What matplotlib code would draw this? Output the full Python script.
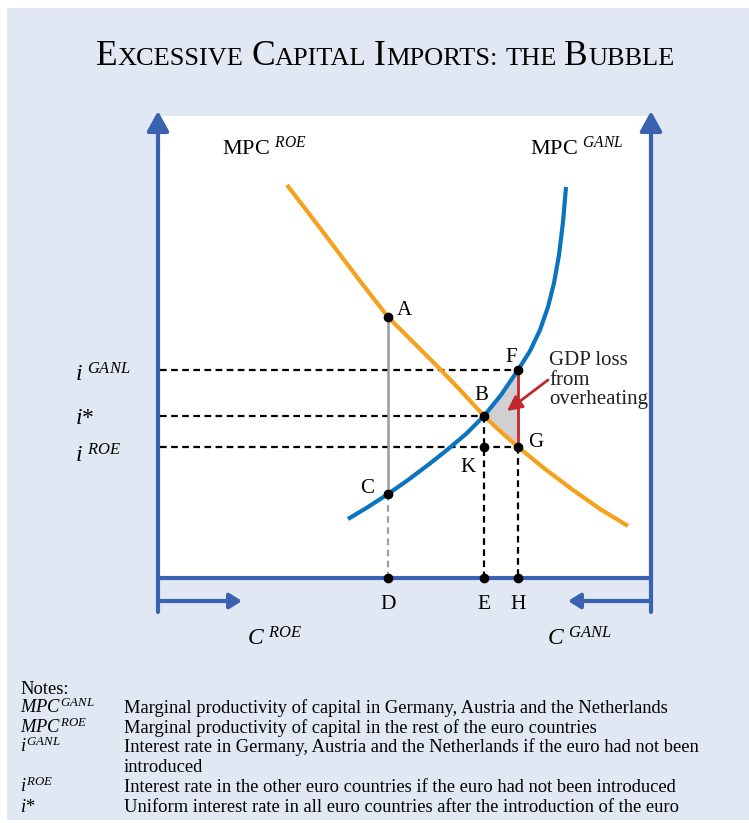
import numpy as np
import matplotlib
matplotlib.use("Agg")
import matplotlib.pyplot as plt
from matplotlib.patches import Rectangle, Polygon

plt.rcParams['mathtext.fontset'] = 'custom'
plt.rcParams['mathtext.rm'] = 'Liberation Serif'
plt.rcParams['mathtext.it'] = 'Liberation Serif:italic'
plt.rcParams['font.family'] = ['Liberation Serif', 'DejaVu Serif']

# ---------------- data (diagram coordinates, y grows downward) ----------------
roe_x = [287, 320, 360, 388, 415, 440, 462, 484, 500, 518, 545, 573, 600, 628]
roe_y = [185, 228, 281, 317, 344, 369, 392, 416, 431, 447, 469, 490, 509, 526]

ganl_x = [348, 368, 388, 408, 428, 447, 466, 484, 501, 518, 530, 540, 548, 554, 559, 563, 566]
ganl_y = [519, 507, 494, 480, 465, 450, 434, 416, 395, 370, 351, 330, 307, 283, 255, 222, 187]

point_names = ['A', 'B', 'C', 'F', 'G', 'K']
point_x = [388, 484, 388, 518, 518, 484]
point_y = [317, 416, 494, 370, 447, 447]

axis_names = ['D', 'E', 'H']
axis_x = [388, 484, 518]

rate_labels = ['GANL', '*', 'ROE']
rate_y = [370, 416, 447]

notes_keys = [r'$\mathit{MPC}^{\mathit{GANL}}$', r'$\mathit{MPC}^{\mathit{ROE}}$',
              r'$\mathit{i}^{\mathit{GANL}}$', '', r'$\mathit{i}^{\mathit{ROE}}$', r'$\mathit{i}$*']
notes_text = ['Marginal productivity of capital in Germany, Austria and the Netherlands',
              'Marginal productivity of capital in the rest of the euro countries',
              'Interest rate in Germany, Austria and the Netherlands if the euro had not been',
              'introduced',
              'Interest rate in the other euro countries if the euro had not been introduced',
              'Uniform interest rate in all euro countries after the introduction of the euro']

# ---------------- figure ----------------
W, H = 749, 823
fig = plt.figure(figsize=(W / 100, H / 100), dpi=100)
ax = fig.add_axes([0, 0, 1, 1])
ax.set_xlim(0, W)
ax.set_ylim(H, 0)
ax.axis('off')

BG = '#E1E8F4'
AXC = '#3A62B0'
ORANGE = '#F6A11B'
BLUE = '#0A74BE'
RED = '#C1272D'

ax.add_patch(Rectangle((7, 8), W - 7, 812, facecolor=BG, edgecolor='none', zorder=0))
ax.add_patch(Rectangle((158, 116), 651 - 158, 578 - 116, facecolor='white', edgecolor='none', zorder=1))

# axes
for xa in (158, 651):
    ax.annotate('', xy=(xa, 111), xytext=(xa, 612),
                arrowprops=dict(arrowstyle='-|>,head_length=0.6,head_width=0.33', color=AXC,
                                lw=3, mutation_scale=20, shrinkA=0, shrinkB=0), zorder=5)
ax.plot([156.5, 652.5], [578, 578], color=AXC, lw=3, zorder=5, solid_capstyle='butt')
ax.annotate('', xy=(242, 601), xytext=(158, 601),
            arrowprops=dict(arrowstyle='-|>,head_length=0.4,head_width=0.25', color=AXC,
                            lw=3, mutation_scale=18, shrinkA=0, shrinkB=0), zorder=5)
ax.annotate('', xy=(568, 601), xytext=(651, 601),
            arrowprops=dict(arrowstyle='-|>,head_length=0.4,head_width=0.25', color=AXC,
                            lw=3, mutation_scale=18, shrinkA=0, shrinkB=0), zorder=5)

P = dict(zip(point_names, zip(point_x, point_y)))

# shaded triangle B-F-G
gx = np.array(ganl_x); gy = np.array(ganl_y)
rx = np.array(roe_x); ry = np.array(roe_y)
mb = (gx >= P['B'][0]) & (gx <= P['F'][0])
mo = (rx >= P['B'][0]) & (rx <= P['G'][0])
poly = list(zip(gx[mb], gy[mb])) + list(zip(rx[mo][::-1], ry[mo][::-1]))
ax.add_patch(Polygon(poly, closed=True, facecolor='#D0D0D2', edgecolor='none', zorder=2))

# dashed guide lines
dash = (0, (3, 2))
for yv, xe in zip(rate_y, [P['F'][0], P['B'][0], P['G'][0]]):
    ax.plot([160, xe], [yv, yv], color='black', lw=1.6, ls=dash, zorder=3)
for xv, ys in zip(axis_x[1:], [P['B'][1], P['G'][1]]):
    ax.plot([xv, xv], [ys, 578], color='black', lw=1.6, ls=dash, zorder=3)
ax.plot([P['A'][0], P['C'][0]], [P['A'][1], P['C'][1]], color='#9A9A9A', lw=1.8, zorder=3)
ax.plot([P['C'][0], axis_x[0]], [P['C'][1], 578], color='#A0A0A0', lw=1.6, ls=dash, zorder=3)
ax.plot([P['F'][0], P['G'][0]], [P['F'][1], P['G'][1]], color=RED, lw=2.0, zorder=3)

# curves
ax.plot(roe_x, roe_y, color=ORANGE, lw=3, zorder=4, solid_joinstyle='round', solid_capstyle='butt')
ax.plot(ganl_x, ganl_y, color=BLUE, lw=3, zorder=4, solid_joinstyle='round', solid_capstyle='butt')

# red arrow
ax.annotate('', xy=(507, 411), xytext=(548, 380),
            arrowprops=dict(arrowstyle='-|>,head_length=0.5,head_width=0.25', color=RED,
                            lw=2, mutation_scale=18, shrinkA=0, shrinkB=0), zorder=6)

# points
ax.plot(point_x, point_y, 'o', color='black', ms=6, zorder=7)
ax.plot(axis_x, [578] * 3, 'o', color='black', ms=6, zorder=7)

# point labels
lab_pos = {'A': (397, 315), 'B': (474, 400), 'C': (360, 493), 'F': (505, 362),
           'G': (528, 447), 'K': (460, 472)}
for n in point_names:
    ax.text(*lab_pos[n], n, fontsize=15, ha='left', va='baseline', zorder=8)
for n, xv in zip(axis_names, axis_x):
    ax.text(xv, 609, n, fontsize=15.5, ha='center', va='baseline', zorder=8)

for i, s in enumerate(['GDP loss', 'from', 'overheating']):
    ax.text(549, 365 + i * 19.5, s, fontsize=15, ha='left', va='baseline', color='#222222', zorder=8)

# curve labels
ax.text(222, 155, r'MPC $^{\mathit{ROE}}$', fontsize=16, ha='left', va='baseline')
ax.text(530, 155, r'MPC $^{\mathit{GANL}}$', fontsize=16, ha='left', va='baseline')

# rate labels
ax.text(75, 381, r'$\mathit{i}^{\ \mathit{GANL}}$', fontsize=17, ha='left', va='baseline')
ax.text(75, 424, r'$\mathit{i}$*', fontsize=17, ha='left', va='baseline')
ax.text(75, 462, r'$\mathit{i}^{\ \mathit{ROE}}$', fontsize=17, ha='left', va='baseline')

ax.text(247, 645, r'$\mathit{C}^{\ \mathit{ROE}}$', fontsize=17, ha='left', va='baseline')
ax.text(547, 645, r'$\mathit{C}^{\ \mathit{GANL}}$', fontsize=17, ha='left', va='baseline')

# title in small caps
pieces = [('E', 25.5), ('XCESSIVE', 19), (' ', 19), ('C', 25.5), ('APITAL', 19), (' ', 19),
          ('I', 25.5), ('MPORTS:', 19), (' ', 19), ('THE', 19), (' ', 19), ('B', 25.5), ('UBBLE', 19)]
fig.canvas.draw()
r = fig.canvas.get_renderer()
objs = []
widths = []
for s, fs in pieces:
    if s == ' ':
        objs.append(None)
        widths.append(fs * 100 / 72 * 0.3)
        continue
    t = ax.text(0, 65, s, fontsize=fs, ha='left', va='baseline')
    widths.append(t.get_window_extent(r).width)
    objs.append(t)
total = sum(widths)
x0 = 385 - total / 2
for t, w in zip(objs, widths):
    if t is not None:
        t.set_x(x0)
    x0 += w

# notes
NFS = 13.3
ax.text(20, 694, 'Notes:', fontsize=NFS, ha='left', va='baseline')
for i, (k, s) in enumerate(zip(notes_keys, notes_text)):
    yb = 713 + i * 19.7
    if k:
        ax.text(20, yb, k, fontsize=NFS, ha='left', va='baseline')
    ax.text(124, yb, s, fontsize=NFS, ha='left', va='baseline')

fig.savefig('out.png', dpi=100, facecolor='white')
